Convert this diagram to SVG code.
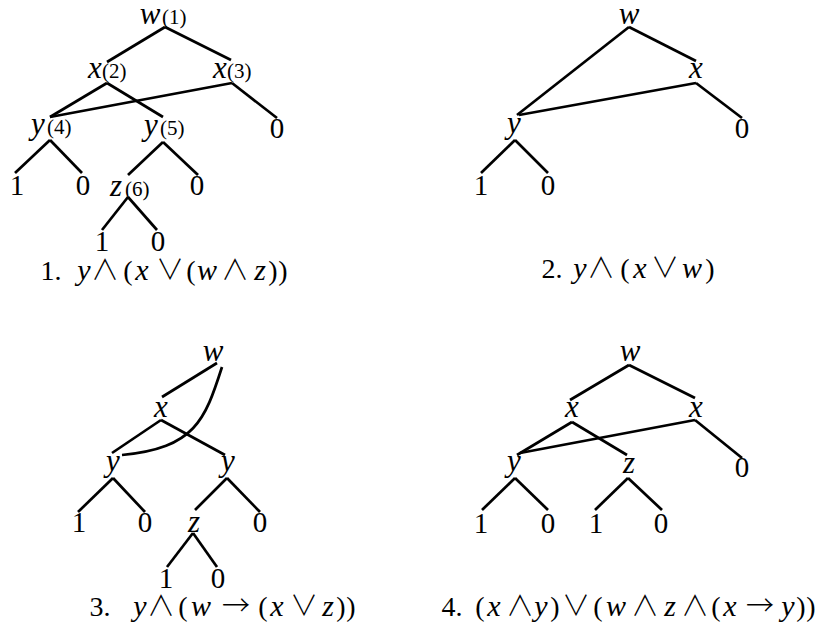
<svg xmlns="http://www.w3.org/2000/svg" width="818" height="633" viewBox="0 0 818 633" font-family="'Liberation Serif', 'DejaVu Serif', serif">
<style>
.bg{fill:#fff}
.e{stroke:#000;stroke-width:2.7;fill:none}
text{fill:#000;font-family:"Liberation Serif","DejaVu Serif",serif}
.v{font-size:31px;font-style:italic;text-anchor:middle}
.n{font-size:29px;text-anchor:middle}
.a{font-size:21px}
.c{font-size:28px;text-anchor:middle}
.ci{font-style:italic;font-size:30px}
.op{font-family:"Noto Sans CJK JP","DejaVu Sans",sans-serif;font-size:28px;font-weight:300}
</style>
<rect class="bg" x="0" y="0" width="818" height="633"/>
<g id="connectors">
<!-- tree 1 -->
<line class="e" x1="165" y1="27" x2="107" y2="62"/>
<line class="e" x1="165" y1="27" x2="231" y2="60"/>
<line class="e" x1="107" y1="83" x2="50" y2="117"/>
<line class="e" x1="107" y1="83" x2="163" y2="117"/>
<line class="e" x1="232" y1="83" x2="50" y2="117"/>
<line class="e" x1="232" y1="83" x2="277" y2="118"/>
<line class="e" x1="50" y1="140" x2="15" y2="173"/>
<line class="e" x1="50" y1="140" x2="82" y2="173"/>
<line class="e" x1="163" y1="142" x2="128" y2="175"/>
<line class="e" x1="163" y1="142" x2="198" y2="175"/>
<line class="e" x1="128" y1="197" x2="102" y2="230"/>
<line class="e" x1="128" y1="197" x2="157" y2="230"/>
<!-- tree 2 -->
<line class="e" x1="629" y1="27" x2="696" y2="61"/>
<line class="e" x1="629" y1="27" x2="517" y2="115"/>
<line class="e" x1="696" y1="83" x2="519" y2="115"/>
<line class="e" x1="696" y1="83" x2="742" y2="118"/>
<line class="e" x1="515" y1="140" x2="481" y2="173"/>
<line class="e" x1="515" y1="140" x2="548" y2="173"/>
<!-- tree 3 -->
<line class="e" x1="217" y1="363" x2="162" y2="397"/>
<path class="e" d="M222,367 C205,420 195,448 122,455"/>
<line class="e" x1="161" y1="420" x2="112" y2="453"/>
<line class="e" x1="161" y1="420" x2="225" y2="455"/>
<line class="e" x1="113" y1="478" x2="78" y2="512"/>
<line class="e" x1="113" y1="478" x2="145" y2="512"/>
<line class="e" x1="227" y1="478" x2="195" y2="510"/>
<line class="e" x1="227" y1="478" x2="260" y2="512"/>
<line class="e" x1="193" y1="533" x2="167" y2="567"/>
<line class="e" x1="193" y1="533" x2="217" y2="567"/>
<!-- tree 4 -->
<line class="e" x1="629" y1="365" x2="570" y2="400"/>
<line class="e" x1="629" y1="365" x2="695" y2="398"/>
<line class="e" x1="572" y1="422" x2="517" y2="455"/>
<line class="e" x1="572" y1="422" x2="627" y2="455"/>
<line class="e" x1="695" y1="420" x2="520" y2="453"/>
<line class="e" x1="695" y1="420" x2="742" y2="458"/>
<line class="e" x1="515" y1="478" x2="482" y2="510"/>
<line class="e" x1="515" y1="478" x2="548" y2="510"/>
<line class="e" x1="628" y1="478" x2="595" y2="510"/>
<line class="e" x1="628" y1="478" x2="662" y2="510"/>
</g>
<!-- tree 1 nodes -->
<g id="t1-w1"><text class="v" x="150" y="24">w</text><text class="a" x="162" y="24">(1)</text></g>
<g id="t1-x2"><text class="v" x="95" y="78">x</text><text class="a" x="102" y="78">(2)</text></g>
<g id="t1-x3"><text class="v" x="220" y="78">x</text><text class="a" x="227" y="78">(3)</text></g>
<g id="t1-y4"><text class="v" x="38" y="134">y</text><text class="a" x="47" y="134">(4)</text></g>
<g id="t1-y5"><text class="v" x="151" y="135">y</text><text class="a" x="160" y="135">(5)</text></g>
<g id="t1-0a"><text class="n" x="277" y="138">0</text></g>
<g id="t1-1a"><text class="n" x="17" y="195">1</text></g>
<g id="t1-0b"><text class="n" x="83" y="195">0</text></g>
<g id="t1-z6"><text class="v" x="116" y="196">z</text><text class="a" x="125" y="196">(6)</text></g>
<g id="t1-0c"><text class="n" x="197" y="195">0</text></g>
<g id="t1-1b"><text class="n" x="102" y="251">1</text></g>
<g id="t1-0d"><text class="n" x="158" y="251">0</text></g>
<!-- tree 2 nodes -->
<g id="t2-w"><text class="v" x="629" y="24">w</text></g>
<g id="t2-x"><text class="v" x="696" y="78">x</text></g>
<g id="t2-y"><text class="v" x="514" y="133">y</text></g>
<g id="t2-0a"><text class="n" x="742" y="138">0</text></g>
<g id="t2-1"><text class="n" x="481" y="195">1</text></g>
<g id="t2-0b"><text class="n" x="548" y="195">0</text></g>
<!-- tree 3 nodes -->
<g id="t3-w"><text class="v" x="213" y="361">w</text></g>
<g id="t3-x"><text class="v" x="161" y="417">x</text></g>
<g id="t3-y1"><text class="v" x="113" y="471">y</text></g>
<g id="t3-y2"><text class="v" x="228" y="471">y</text></g>
<g id="t3-1a"><text class="n" x="79" y="532">1</text></g>
<g id="t3-0a"><text class="n" x="145" y="532">0</text></g>
<g id="t3-z"><text class="v" x="194" y="532">z</text></g>
<g id="t3-0b"><text class="n" x="260" y="532">0</text></g>
<g id="t3-1b"><text class="n" x="166" y="588">1</text></g>
<g id="t3-0c"><text class="n" x="218" y="588">0</text></g>
<!-- tree 4 nodes -->
<g id="t4-w"><text class="v" x="630" y="361">w</text></g>
<g id="t4-x1"><text class="v" x="572" y="417">x</text></g>
<g id="t4-x2"><text class="v" x="696" y="417">x</text></g>
<g id="t4-y"><text class="v" x="514" y="471">y</text></g>
<g id="t4-z"><text class="v" x="629" y="473">z</text></g>
<g id="t4-0a"><text class="n" x="742" y="477">0</text></g>
<g id="t4-1a"><text class="n" x="481" y="533">1</text></g>
<g id="t4-0b"><text class="n" x="548" y="533">0</text></g>
<g id="t4-1b"><text class="n" x="596" y="533">1</text></g>
<g id="t4-0c"><text class="n" x="661" y="533">0</text></g>
<!-- captions -->
<g id="captions">
<text class="c" y="280"><tspan x="51">1.</tspan><tspan class="ci" x="84">y</tspan><tspan class="op" x="105">∧</tspan><tspan x="128">(</tspan><tspan class="ci" x="142">x</tspan><tspan class="op" x="170">∨</tspan><tspan x="191">(</tspan><tspan class="ci" x="207">w</tspan><tspan class="op" x="235">∧</tspan><tspan class="ci" x="260">z</tspan><tspan x="273">)</tspan><tspan x="283">)</tspan></text>
<text class="c" y="278"><tspan x="552">2.</tspan><tspan class="ci" x="580">y</tspan><tspan class="op" x="601">∧</tspan><tspan x="625">(</tspan><tspan class="ci" x="640">x</tspan><tspan class="op" x="665">∨</tspan><tspan class="ci" x="692">w</tspan><tspan x="710">)</tspan></text>
<text class="c" y="616"><tspan x="100">3.</tspan><tspan class="ci" x="140">y</tspan><tspan class="op" x="161">∧</tspan><tspan x="183">(</tspan><tspan class="ci" x="201">w</tspan><tspan class="op" x="236">→</tspan><tspan x="263">(</tspan><tspan class="ci" x="277">x</tspan><tspan class="op" x="304">∨</tspan><tspan class="ci" x="328">z</tspan><tspan x="341">)</tspan><tspan x="351">)</tspan></text>
<text class="c" y="616"><tspan x="452">4.</tspan><tspan x="480">(</tspan><tspan class="ci" x="494">x</tspan><tspan class="op" x="520">∧</tspan><tspan class="ci" x="541">y</tspan><tspan x="555">)</tspan><tspan class="op" x="576">∨</tspan><tspan x="598">(</tspan><tspan class="ci" x="616">w</tspan><tspan class="op" x="645">∧</tspan><tspan class="ci" x="670">z</tspan><tspan class="op" x="695">∧</tspan><tspan x="716">(</tspan><tspan class="ci" x="730">x</tspan><tspan class="op" x="760">→</tspan><tspan class="ci" x="788">y</tspan><tspan x="801">)</tspan><tspan x="811">)</tspan></text>
</g>
</svg>
